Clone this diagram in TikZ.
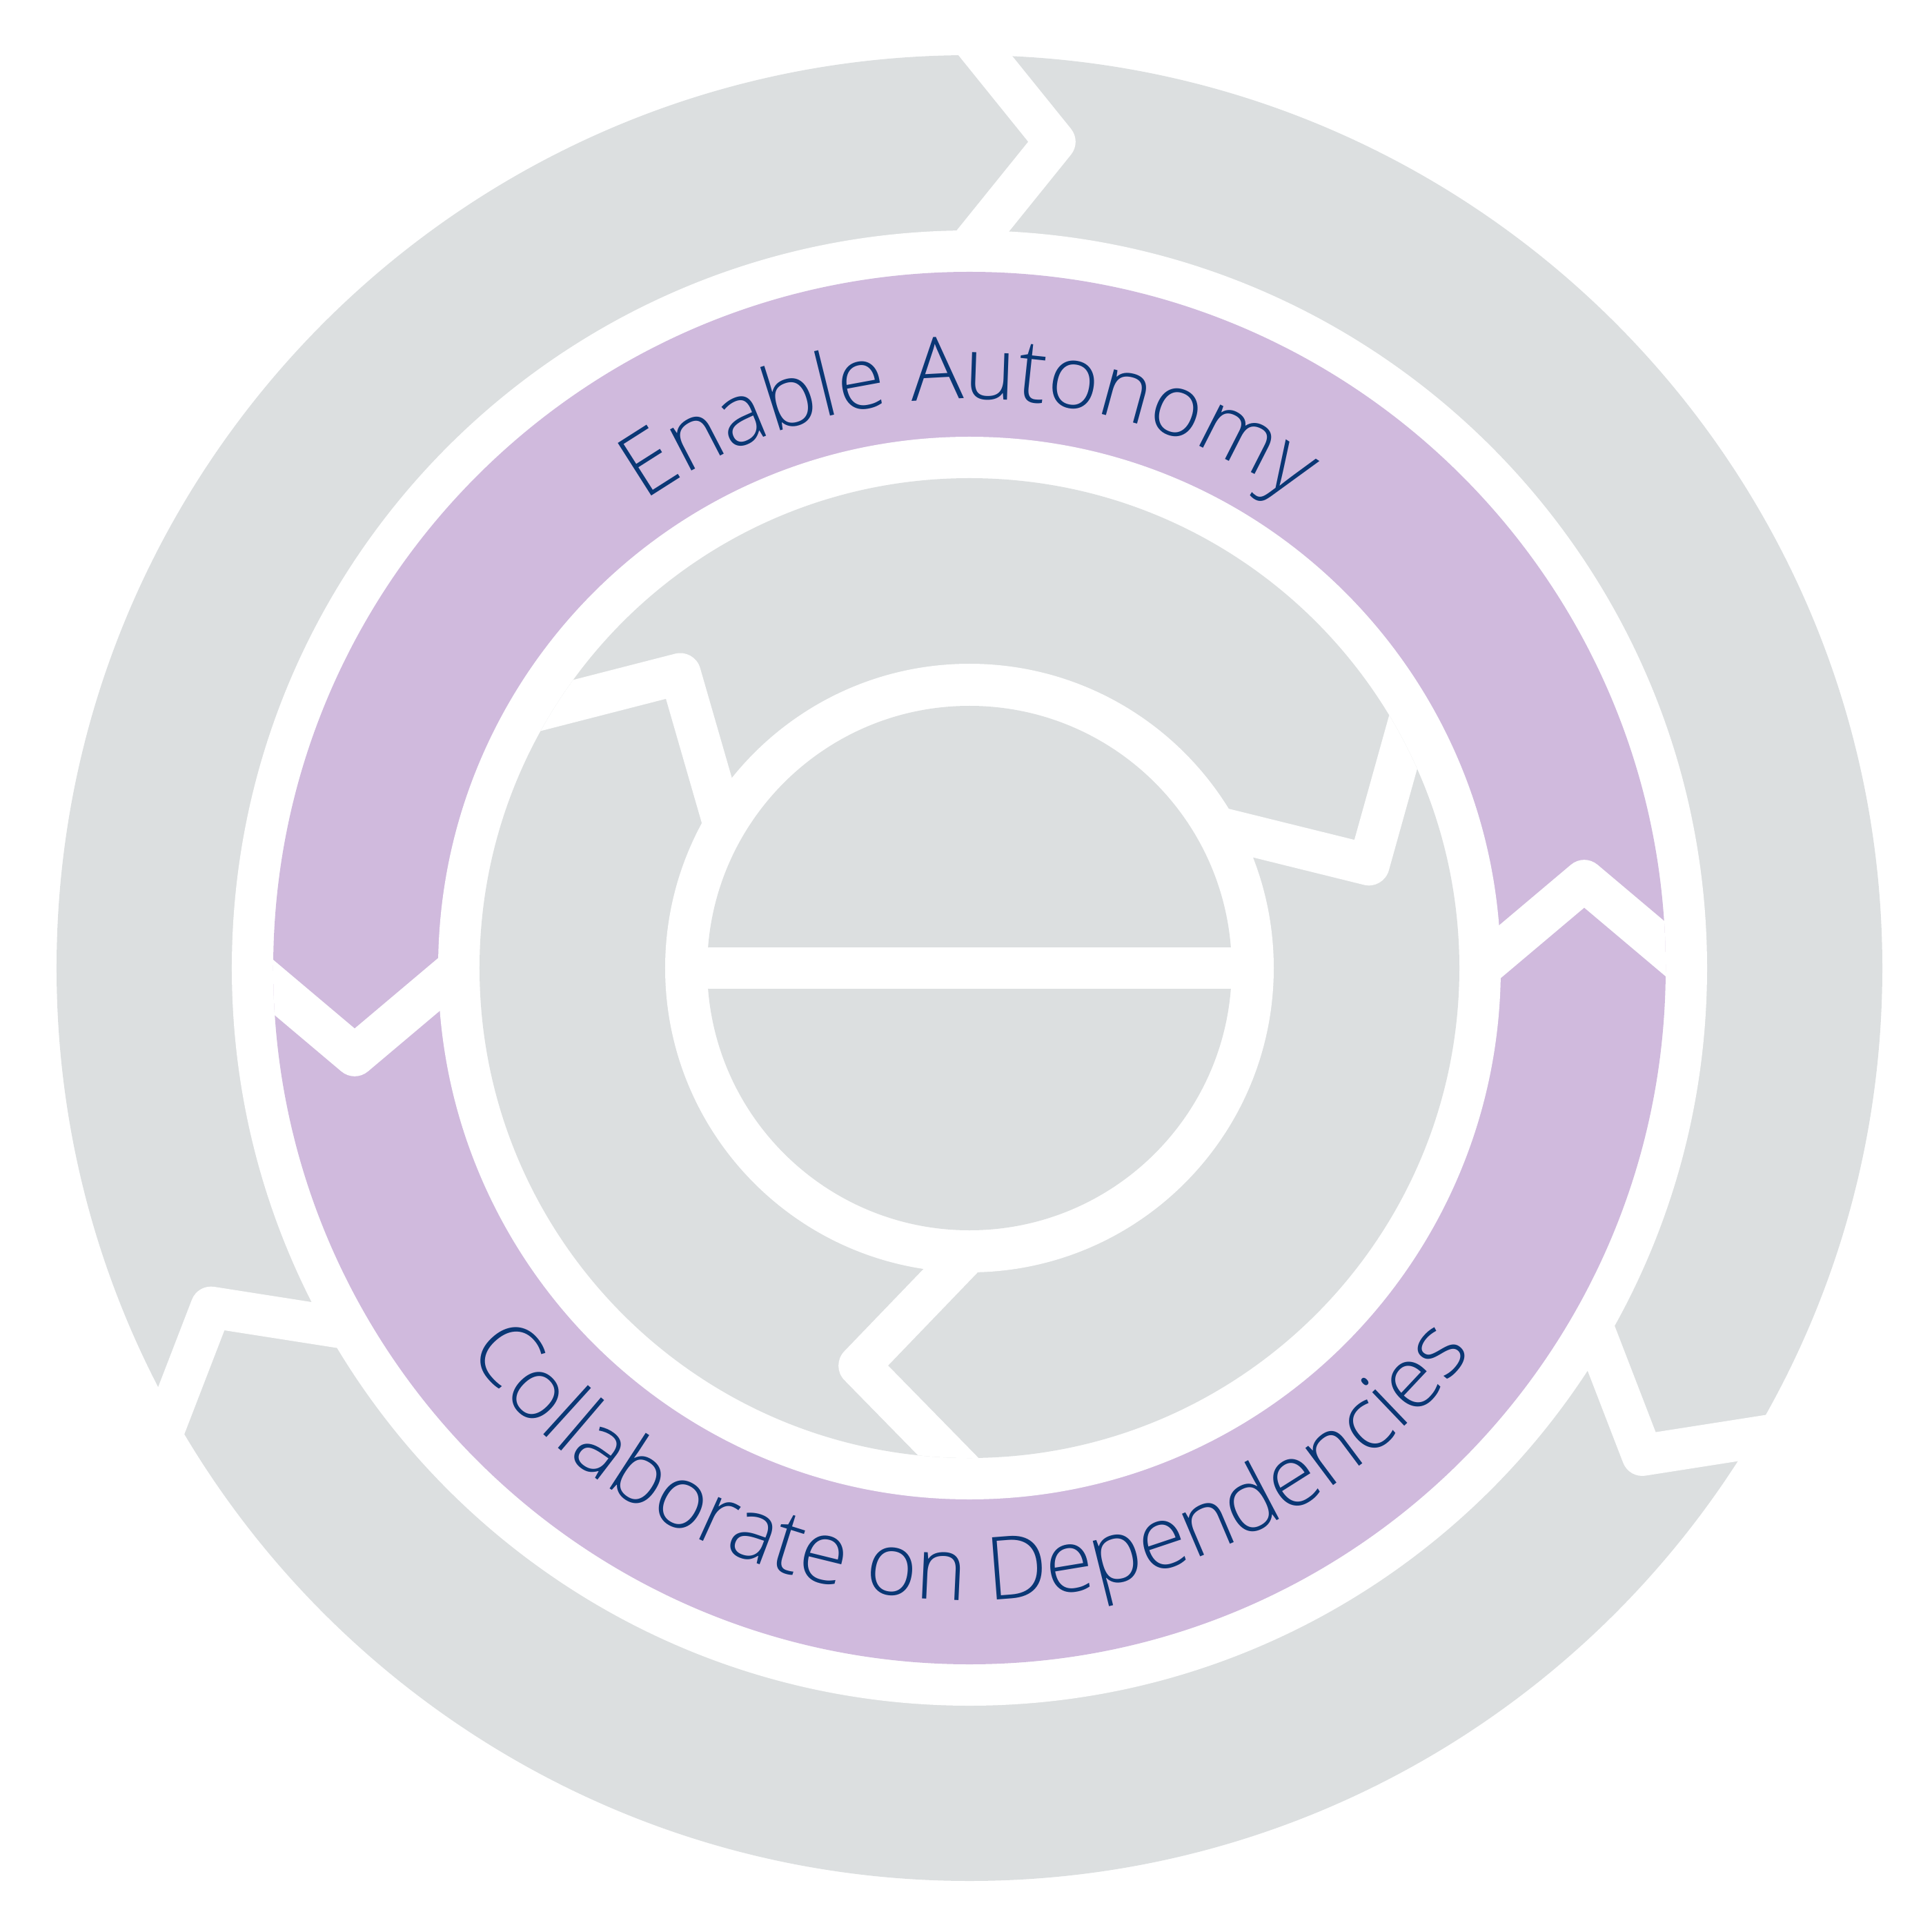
\documentclass[tikz,border=0pt]{standalone}
\usepackage{fontspec}
\setmainfont{Open Sans}[UprightFont={* Light}]
\usepackage{tikz}
\usetikzlibrary{decorations.text}
\definecolor{RingGray}{HTML}{DCDFE0}
\definecolor{RingPurple}{HTML}{D0BADD}
\definecolor{LabelBlue}{HTML}{0A3775}
\newcommand{\bandfont}{\fontsize{36}{42}\selectfont}
\tikzset{
  gap/.style={
    draw=white,
    line width=6mm,
    line join=round
  },
  graydisk/.style={
    fill=RingGray
  },
  purpledisk/.style={
    fill=RingPurple
  },
  whitedisk/.style={
    fill=white
  },
  bandlabel/.style={
    decorate,
    decoration={
      text along path,
      text align=center,
      text color=LabelBlue
    }
  }
}

\begin{document}
\begin{tikzpicture}

  \useasboundingbox (-14.05,-13.97) rectangle (13.95,14.03);

  % outer ring with three arrows
  \fill[graydisk] (0,0) circle (13.23);
  \foreach \a in {84.1,-35.9,204.1} {
    \draw[gap] (\a:12.04) ++({\a+147}:3) -- (\a:12.04) -- ++({\a+44.8}:3);
  }
  \fill[whitedisk] (0,0) circle (10.69);

  % purple ring with two arrows
  \fill[purpledisk] (0,0) circle (10.09);
  \begin{scope}
    \clip (0,0) circle (10.09);
    \foreach \a in {188.1,8.1} {
      \draw[gap] (\a:9.0) ++({\a-48.25}:3) -- (\a:9.0) -- ++({\a+212.05}:3);
    }
  \end{scope}
  \fill[whitedisk] (0,0) circle (7.70);

  % inner ring with three arrows
  \fill[graydisk] (0,0) circle (7.10);
  \begin{scope}
    \clip (0,0) circle (7.10);
    \foreach \a in {134.5,14.5,254.5} {
      \draw[gap] (\a:5.98) ++({\a+59.9}:3) -- (\a:5.98) -- ++({\a+151.6}:3);
    }
  \end{scope}
  \fill[whitedisk] (0,0) circle (4.41);

  % centre disc, split in two
  \fill[graydisk] (0,0) circle (3.80);
  \fill[whitedisk] (-4.1,-0.3) rectangle (4.1,0.3);

  % labels on the purple ring
  \path[
    bandlabel,
    decoration={
      text={|\bandfont|Enable Autonomy}
    }
  ] (180:8.25) arc[start angle=180, end angle=0, radius=8.25];

  \path[
    bandlabel,
    decoration={
      text={|\bandfont|Collaborate on Dependencies}
    }
  ] (180:9.16) arc[start angle=180, end angle=360, radius=9.16];

\end{tikzpicture}
\end{document}
